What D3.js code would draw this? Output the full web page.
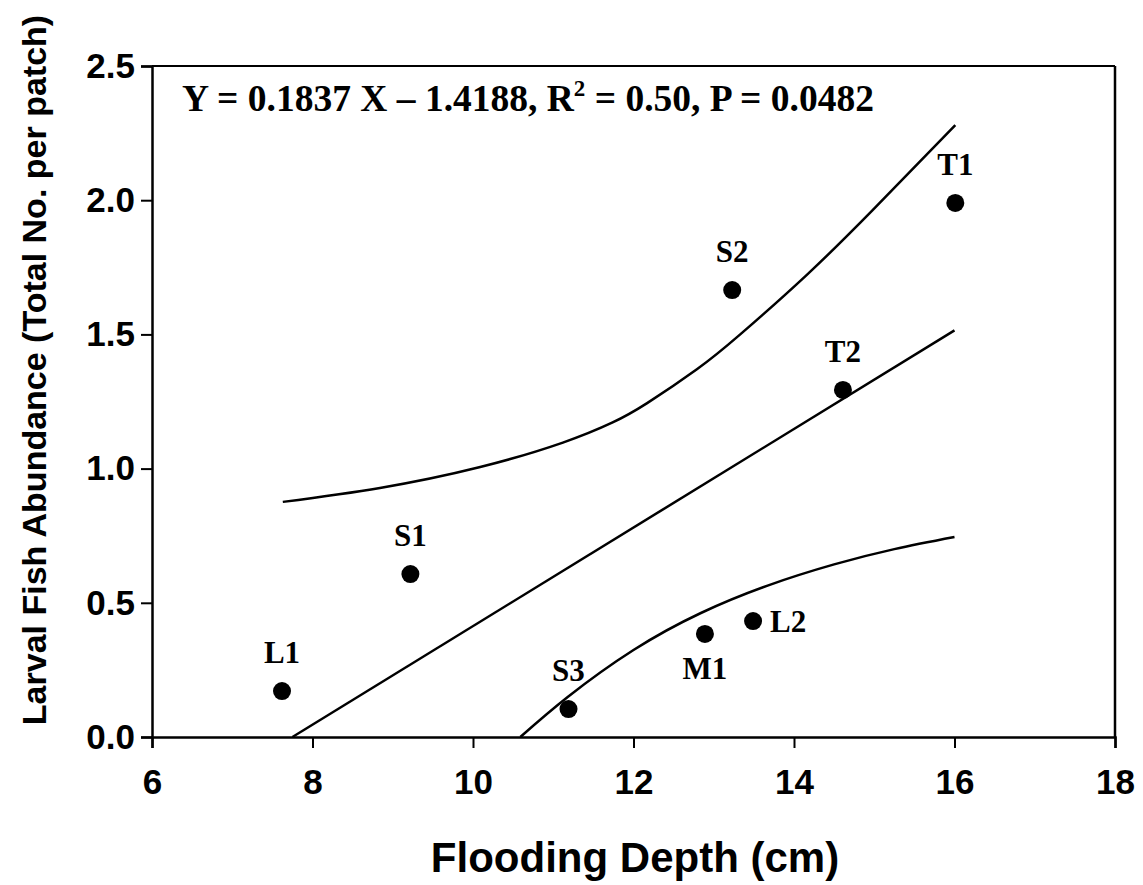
<!DOCTYPE html>
<html><head><meta charset="utf-8">
<script src="https://cdn.jsdelivr.net/npm/d3@7"></script>
<style>body{margin:0;background:#fff}</style>
</head><body>
<svg id="c" width="1143" height="885"></svg>
<script>
// ---- data ----
const siteNames = ["L1","S1","S3","M1","L2","T2","S2","T1"];
const depthCm   = [7.62, 9.22, 11.19, 12.89, 13.49, 14.61, 13.23, 16.01];
const abundance = [0.171, 0.607, 0.104, 0.384, 0.432, 1.293, 1.665, 1.990];
const labelSide = ["above","above","above","below","right","above","above","above"];

const fitX = [7.75, 16.0];
const fitY = [0.0, 1.515];

const upperX = [7.63, 8.84, 10.09, 11.12, 11.74, 12.17, 12.79, 13.33, 14.16, 14.98, 16.01];
const upperY = [0.876, 0.928, 1.006, 1.097, 1.172, 1.244, 1.370, 1.500, 1.722, 1.963, 2.280];

const lowerX = [10.59, 11.18, 12.00, 12.84, 13.68, 14.50, 15.25, 16.00];
const lowerY = [0.0, 0.149, 0.324, 0.462, 0.565, 0.643, 0.700, 0.745];

const xTicks = [6, 8, 10, 12, 14, 16, 18];
const yTicks = [0.0, 0.5, 1.0, 1.5, 2.0, 2.5];

const xTitle = "Flooding Depth (cm)";
const yTitle = "Larval Fish Abundance (Total No. per patch)";
const eqParts = ["Y = 0.1837 X \u2013 1.4188, R", "2", " = 0.50, P = 0.0482"];

// ---- drawing ----
const svg = d3.select("#c");
const L = 152, R = 1115, T = 66, B = 737;
const x = d3.scaleLinear().domain([6, 18]).range([L, R]);
const y = d3.scaleLinear().domain([0, 2.5]).range([B, T]);

const sans = "'Liberation Sans', Arial, sans-serif";
const serif = "'Liberation Serif', 'Times New Roman', serif";

// frame (top/right)
svg.append("line").attr("x1", L).attr("x2", R).attr("y1", T).attr("y2", T)
  .attr("stroke", "#000").attr("stroke-width", 2);
svg.append("line").attr("x1", R).attr("x2", R).attr("y1", T).attr("y2", B)
  .attr("stroke", "#000").attr("stroke-width", 2.5);

// axes
const xAxis = svg.append("g").attr("transform", `translate(0,${B})`)
  .call(d3.axisBottom(x).tickValues(xTicks).tickSize(11).tickPadding(21).tickFormat(d3.format("d")));
const yAxis = svg.append("g").attr("transform", `translate(${L},0)`)
  .call(d3.axisLeft(y).tickValues(yTicks).tickSize(11).tickPadding(6).tickFormat(d3.format(".1f")));
[xAxis, yAxis].forEach(g => {
  g.select(".domain").attr("stroke", "#000").attr("stroke-width", 2.5);
  g.selectAll(".tick line").attr("stroke", "#000").attr("stroke-width", 2);
  g.selectAll(".tick text").attr("fill", "#000")
    .style("font-family", sans).style("font-weight", "bold").style("font-size", "35px");
});

// axis titles
svg.append("text").attr("x", 635).attr("y", 872).attr("text-anchor", "middle")
  .style("font-family", sans).style("font-weight", "bold").style("font-size", "42px")
  .text(xTitle);
svg.append("text").attr("transform", `translate(46,370) rotate(-90)`)
  .attr("text-anchor", "middle")
  .style("font-family", sans).style("font-weight", "bold").style("font-size", "34px")
  .text(yTitle);

// equation
const eq = svg.append("text").attr("x", 182).attr("y", 111)
  .style("font-family", serif).style("font-weight", "bold").style("font-size", "37.5px");
eq.append("tspan").text(eqParts[0]);
eq.append("tspan").attr("dy", -15).style("font-size", "23px").text(eqParts[1]);
eq.append("tspan").attr("dy", 15).text(eqParts[2]);

// lines
const straight = d3.line().x(d => x(d[0])).y(d => y(d[1]));
const smooth = d3.line().x(d => x(d[0])).y(d => y(d[1])).curve(d3.curveNatural);
svg.append("path").datum(d3.zip(fitX, fitY)).attr("d", straight)
  .attr("fill", "none").attr("stroke", "#000").attr("stroke-width", 2.5);
svg.selectAll("path.band").data([d3.zip(upperX, upperY), d3.zip(lowerX, lowerY)]).join("path")
  .attr("class", "band").attr("d", smooth)
  .attr("fill", "none").attr("stroke", "#000").attr("stroke-width", 2.5);

// points
const pts = d3.range(siteNames.length).map(i => ({n: siteNames[i], x: depthCm[i], y: abundance[i], s: labelSide[i]}));
svg.selectAll("circle.pt").data(pts).join("circle").attr("class", "pt")
  .attr("cx", d => x(d.x)).attr("cy", d => y(d.y)).attr("r", 9).attr("fill", "#000");
svg.selectAll("text.lab").data(pts).join("text").attr("class", "lab")
  .attr("x", d => x(d.x) + (d.s === "right" ? 17 : 0))
  .attr("y", d => y(d.y) + (d.s === "above" ? -28 : d.s === "below" ? 45 : 11))
  .attr("text-anchor", d => d.s === "right" ? "start" : "middle")
  .style("font-family", serif).style("font-weight", "bold").style("font-size", "31px")
  .text(d => d.n);
</script>
</body></html>
